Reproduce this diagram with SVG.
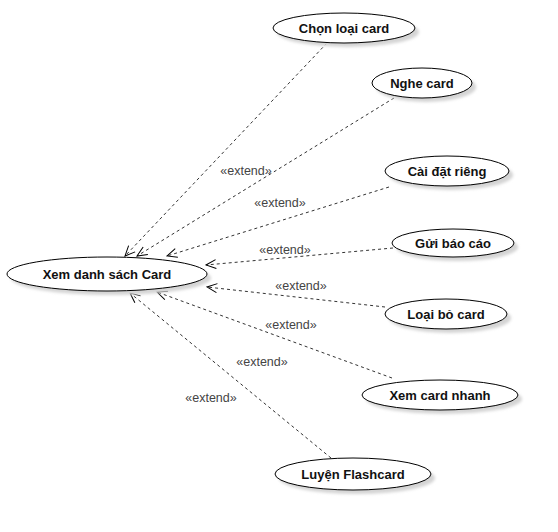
<svg xmlns="http://www.w3.org/2000/svg" width="558" height="532" viewBox="0 0 558 532">
<defs>
<style>
.uc ellipse.body{fill:#fff;stroke:#000;stroke-width:1}
.uc ellipse.shadow{fill:#d4d4d4;stroke:none;filter:url(#blur)}
.uc text{font-family:"Liberation Sans",Arial,sans-serif;font-size:13px;font-weight:bold;fill:#111;text-anchor:middle;dominant-baseline:central}
#connectors line{stroke:#333;stroke-width:1;stroke-dasharray:3,3;fill:none}
#connectors text{font-family:"Liberation Sans",Arial,sans-serif;font-size:12.5px;fill:#444;text-anchor:middle;dominant-baseline:central}
</style>
<filter id="blur" x="-10%" y="-30%" width="120%" height="160%">
<feGaussianBlur stdDeviation="1.5"/>
</filter>
<marker id="open" viewBox="0 0 12 12" refX="11" refY="6" markerWidth="12" markerHeight="12" markerUnits="userSpaceOnUse" orient="auto">
<path d="M1,1.5 L11,6 L1,10.5" fill="none" stroke="#000" stroke-width="1"/>
</marker>
</defs>
<rect width="558" height="532" fill="#fff"/>
<g id="connectors">
<line x1="327" y1="43" x2="125" y2="256" marker-end="url(#open)"/>
<line x1="394" y1="98" x2="137" y2="256" marker-end="url(#open)"/>
<line x1="389" y1="187" x2="167" y2="256" marker-end="url(#open)"/>
<line x1="393" y1="248" x2="206" y2="265" marker-end="url(#open)"/>
<line x1="385" y1="307" x2="207" y2="287" marker-end="url(#open)"/>
<line x1="392" y1="378" x2="157" y2="292" marker-end="url(#open)"/>
<line x1="331" y1="458" x2="130" y2="293" marker-end="url(#open)"/>
<text x="246" y="171">«extend»</text>
<text x="280" y="203">«extend»</text>
<text x="285" y="250">«extend»</text>
<text x="301" y="286">«extend»</text>
<text x="291" y="325">«extend»</text>
<text x="262" y="362">«extend»</text>
<text x="211" y="398">«extend»</text>
</g>
<g id="uc-main" class="uc">
<ellipse class="shadow" cx="111" cy="278" rx="100" ry="17"/>
<ellipse class="body" cx="107" cy="274" rx="100" ry="17"/>
<text x="107" y="274">Xem danh sách Card</text>
</g>
<g id="uc-chon" class="uc">
<ellipse class="shadow" cx="348" cy="32" rx="71" ry="15"/>
<ellipse class="body" cx="344" cy="28" rx="71" ry="15"/>
<text x="344" y="28">Chọn loại card</text>
</g>
<g id="uc-nghe" class="uc">
<ellipse class="shadow" cx="426" cy="87" rx="50" ry="15"/>
<ellipse class="body" cx="422" cy="83" rx="50" ry="15"/>
<text x="422" y="83">Nghe card</text>
</g>
<g id="uc-caidat" class="uc">
<ellipse class="shadow" cx="451" cy="175" rx="62" ry="15"/>
<ellipse class="body" cx="447" cy="171" rx="62" ry="15"/>
<text x="447" y="171">Cài đặt riêng</text>
</g>
<g id="uc-gui" class="uc">
<ellipse class="shadow" cx="457" cy="247" rx="61" ry="14"/>
<ellipse class="body" cx="453" cy="243" rx="61" ry="14"/>
<text x="453" y="243">Gửi báo cáo</text>
</g>
<g id="uc-loai" class="uc">
<ellipse class="shadow" cx="450" cy="318" rx="61" ry="15"/>
<ellipse class="body" cx="446" cy="314" rx="61" ry="15"/>
<text x="446" y="314">Loại bỏ card</text>
</g>
<g id="uc-xemnhanh" class="uc">
<ellipse class="shadow" cx="444" cy="399" rx="78" ry="15"/>
<ellipse class="body" cx="440" cy="395" rx="78" ry="15"/>
<text x="440" y="395">Xem card nhanh</text>
</g>
<g id="uc-luyen" class="uc">
<ellipse class="shadow" cx="357" cy="478" rx="78" ry="16"/>
<ellipse class="body" cx="353" cy="474" rx="78" ry="16"/>
<text x="353" y="474">Luyện Flashcard</text>
</g>
</svg>
